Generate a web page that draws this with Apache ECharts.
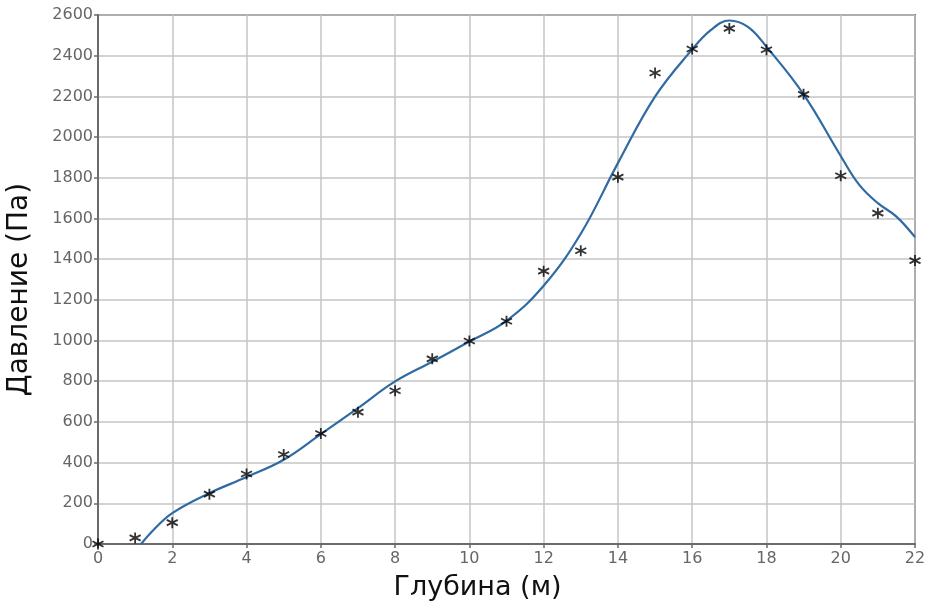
<!DOCTYPE html>
<html>
<head>
<meta charset="utf-8">
<script src="https://cdn.jsdelivr.net/npm/echarts@6/dist/echarts.min.js"></script>
<style>
  html, body { margin: 0; padding: 0; background: #fff; }
  #chart { width: 925px; height: 609px; }
</style>
</head>
<body>
<div id="chart"></div>
<script>
// Measured pressure at each depth (m)
const depths = [0, 1, 2, 3, 4, 5, 6, 7, 8, 9, 10, 11, 12, 13, 14, 15, 16, 17, 18, 19, 20, 21, 22];
const measured = [0, 30, 105, 245, 344, 440, 543, 648, 753, 910, 998, 1095, 1341, 1441, 1803, 2315, 2433, 2534, 2429, 2210, 1810, 1626, 1393];

// Smoothed fit curve: depth and pressure
const fitDepth = [1.16, 1.5, 2, 3, 4, 5, 6, 7, 8, 9, 10, 11, 12, 13, 14, 15, 16, 16.5, 17, 17.5, 18, 19, 20, 20.5, 21, 21.5, 22];
const fitPressure = [0, 70, 152, 250, 329, 414, 540, 668, 799, 896, 995, 1097, 1269, 1525, 1872, 2199, 2431, 2526, 2573, 2542, 2444, 2210, 1907, 1765, 1675, 1609, 1508];

// Axis settings
const xMin = 0, xMax = 22, xStep = 2;
const yMin = 0, yMax = 2600, yStep = 200;

const FONT = 'DejaVu Sans';
const asterisk = 'path://M0,-6L0,6M-5.2,-3L5.2,3M-5.2,3L5.2,-3';

const chart = echarts.init(document.getElementById('chart'));
chart.setOption({
  animation: false,
  grid: {
    left: 98, right: 10, top: 15, bottom: 65,
    outerBoundsMode: 'none',
    show: true, borderColor: '#6b6b6b', borderWidth: 2, backgroundColor: '#fff'
  },
  xAxis: {
    type: 'value', min: xMin, max: xMax, interval: xStep,
    name: 'Глубина (м)', nameLocation: 'middle', nameGap: 30,
    nameTextStyle: { fontFamily: FONT, fontSize: 27, color: '#111', padding: [0, 58, 0, 0] },
    axisLine: { lineStyle: { color: '#6b6b6b', width: 2 } },
    axisTick: { show: true, length: 4, lineStyle: { color: '#6b6b6b', width: 1.5 } },
    axisLabel: { fontFamily: FONT, fontSize: 16, color: '#666', margin: 7, formatter: v => String(v) },
    splitLine: { show: true, lineStyle: { color: '#c4c4c4', width: 1.5 } }
  },
  yAxis: {
    type: 'value', min: yMin, max: yMax, interval: yStep,
    name: 'Давление (Па)', nameLocation: 'middle', nameGap: 64,
    nameTextStyle: { fontFamily: FONT, fontSize: 28, color: '#111', padding: [0, 20, 0, 0] },
    axisLine: { show: true, lineStyle: { color: '#6b6b6b', width: 2 } },
    axisTick: { show: true, length: 4, lineStyle: { color: '#6b6b6b', width: 1.5 } },
    axisLabel: { fontFamily: FONT, fontSize: 16, color: '#666', margin: 5, formatter: v => String(v) },
    splitLine: { show: true, lineStyle: { color: '#c4c4c4', width: 1.5 } }
  },
  series: [
    {
      type: 'line',
      data: fitDepth.map((d, i) => [d, fitPressure[i]]),
      smooth: 0.4,
      showSymbol: false,
      lineStyle: { color: '#2f6aa3', width: 2.2 },
      z: 2
    },
    {
      type: 'scatter',
      data: depths.map((d, i) => [d, measured[i]]),
      symbol: asterisk,
      symbolSize: 11,
      itemStyle: { color: 'transparent', borderColor: '#000', borderWidth: 1.8 },
      clip: false,
      z: 3
    }
  ]
});
</script>
</body>
</html>
